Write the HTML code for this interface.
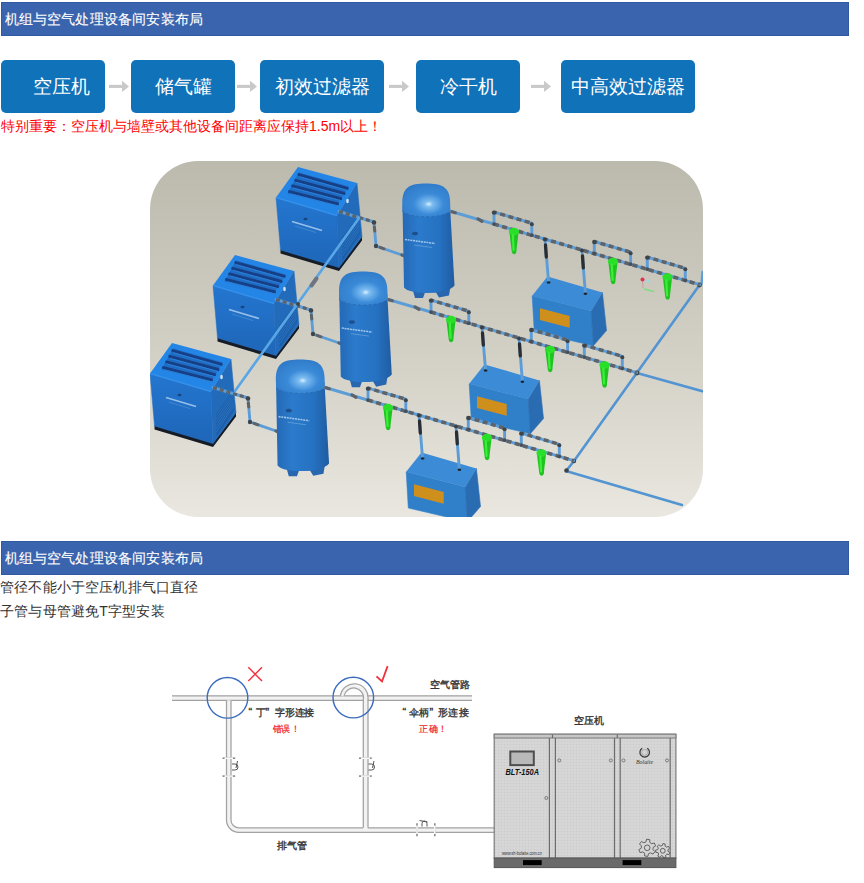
<!DOCTYPE html>
<html><head><meta charset="utf-8">
<style>
*{margin:0;padding:0;box-sizing:border-box}
html,body{width:864px;height:883px;overflow:hidden;background:#fff}
body{font-family:"Liberation Sans",sans-serif;position:relative;color:#333}
.hd{position:absolute;left:1px;width:848px;height:34px;background:#3a64ad;border:1px solid #3159a3;color:#fff;font-size:14px;line-height:32px;padding-left:2.5px;letter-spacing:0.2px;white-space:nowrap;-webkit-text-stroke:0.12px #fff}
.btn{position:absolute;top:60px;height:53px;background:#1072b9;border-radius:5px;color:#fff;font-size:19px;line-height:53px;text-align:center;white-space:nowrap}
.arr{position:absolute;top:79px}
.red{position:absolute;left:1px;top:116.5px;font-size:14px;line-height:18px;color:#f00;white-space:nowrap}
.txt{position:absolute;left:0;font-size:14px;line-height:18px;color:#333;letter-spacing:0.18px;white-space:nowrap}
svg{position:absolute;display:block}
</style></head><body>
<div class="hd" style="top:2px">机组与空气处理设备间安装布局</div>
<div class="btn" style="left:1px;width:104px;padding-left:16px">空压机</div>
<div class="btn" style="left:131px;width:104px">储气罐</div>
<div class="btn" style="left:260px;width:124px">初效过滤器</div>
<div class="btn" style="left:416px;width:104px">冷干机</div>
<div class="btn" style="left:561px;width:134px">中高效过滤器</div>
<svg class="arr" style="left:107px" width="24" height="15" viewBox="0 0 24 15"><path d="M2 7.4H16" stroke="#c9c9c9" stroke-width="3.1"/><path d="M15 1.7L22 7.4L15 13.1Z" fill="#c9c9c9"/></svg>
<svg class="arr" style="left:235px" width="24" height="15" viewBox="0 0 24 15"><path d="M2 7.4H16" stroke="#c9c9c9" stroke-width="3.1"/><path d="M15 1.7L22 7.4L15 13.1Z" fill="#c9c9c9"/></svg>
<svg class="arr" style="left:387px" width="24" height="15" viewBox="0 0 24 15"><path d="M2 7.4H16" stroke="#c9c9c9" stroke-width="3.1"/><path d="M15 1.7L22 7.4L15 13.1Z" fill="#c9c9c9"/></svg>
<svg class="arr" style="left:529px" width="24" height="15" viewBox="0 0 24 15"><path d="M2 7.4H16" stroke="#c9c9c9" stroke-width="3.1"/><path d="M15 1.7L22 7.4L15 13.1Z" fill="#c9c9c9"/></svg>
<div class="red">特别重要：空压机与墙壁或其他设备间距离应保持1.5m以上！</div>
<!-- 3D image -->
<svg id="img3d" style="left:0;top:0" width="864" height="540" viewBox="0 0 864 540">
<defs>
<linearGradient id="bg" x1="0" y1="0" x2="0" y2="1"><stop offset="0" stop-color="#bcb9ad"/><stop offset="0.55" stop-color="#d3d0c6"/><stop offset="1" stop-color="#e9e7df"/></linearGradient>
<linearGradient id="tk" x1="0" y1="0" x2="1" y2="0"><stop offset="0" stop-color="#2469b6"/><stop offset="0.3" stop-color="#2b7acb"/><stop offset="0.7" stop-color="#2672c2"/><stop offset="1" stop-color="#1f5ca2"/></linearGradient>
<radialGradient id="dome" cx="0.55" cy="0.62" r="0.7"><stop offset="0" stop-color="#d8f0ff"/><stop offset="0.12" stop-color="#7dbcf0"/><stop offset="0.45" stop-color="#3a8ad8"/><stop offset="1" stop-color="#2d78c6"/></radialGradient>
<linearGradient id="cf" x1="0" y1="0" x2="0" y2="1"><stop offset="0" stop-color="#2476d0"/><stop offset="1" stop-color="#1e66b8"/></linearGradient>
<clipPath id="clip"><rect x="150" y="161" width="553" height="356" rx="48" ry="48"/></clipPath>
</defs>
<rect x="150" y="161" width="553" height="356" rx="48" ry="48" fill="url(#bg)"/>
<g clip-path="url(#clip)">
<polyline points="702.5,272.0 701.5,284.0" fill="none" stroke="#5c9dd8" stroke-width="2.4" stroke-linejoin="round" stroke-linecap="round"/>
<polyline points="699.7,284.7 574.0,461.0 566.0,471.0 682.0,505.0" fill="none" stroke="#5394d2" stroke-width="2.6" stroke-linejoin="round" stroke-linecap="round"/>
<polyline points="637.0,373.0 705.0,392.0" fill="none" stroke="#5394d2" stroke-width="2.6" stroke-linejoin="round" stroke-linecap="round"/>
<circle cx="566.5" cy="470.5" r="2.3" fill="#3f4449"/>
<circle cx="637.0" cy="373.0" r="2.4" fill="#3f4449"/>
<circle cx="574.0" cy="461.0" r="2.2" fill="#3f4449"/>
<circle cx="699.5" cy="285.0" r="2.4" fill="#3f4449"/>
<polygon points="280.5,249.5 339.0,267.0 362.0,236.5 362.0,240.5 339.0,271.0 280.5,253.5" fill="#161c26"/>
<polygon points="276.0,197.5 337.0,215.5 339.0,267.5 280.5,250.0" fill="url(#cf)" stroke="#2270c6" stroke-width="0.5"/>
<polygon points="337.0,215.5 357.0,183.0 362.0,236.5 339.0,267.5" fill="#226bbb" stroke="#226bbb" stroke-width="0.5"/>
<polygon points="342.0,237.5 359.0,215.5 360.5,233.5 342.5,260.5" fill="#1d5fa8"/>
<line x1="342.2" y1="239.5" x2="359.6" y2="217.0" stroke="#2a74c4" stroke-width="0.9"/>
<line x1="342.2" y1="242.8" x2="359.6" y2="219.7" stroke="#2a74c4" stroke-width="0.9"/>
<line x1="342.2" y1="246.2" x2="359.6" y2="222.3" stroke="#2a74c4" stroke-width="0.9"/>
<line x1="342.2" y1="249.5" x2="359.6" y2="225.0" stroke="#2a74c4" stroke-width="0.9"/>
<line x1="342.2" y1="252.8" x2="359.6" y2="227.7" stroke="#2a74c4" stroke-width="0.9"/>
<line x1="342.2" y1="256.2" x2="359.6" y2="230.3" stroke="#2a74c4" stroke-width="0.9"/>
<polygon points="276.0,197.5 298.0,167.0 357.0,183.0 337.0,215.5" fill="#2385e6"/>
<polyline points="276.0,197.5 337.0,215.5" fill="none" stroke="#3590ea" stroke-width="1.4"/>
<polygon points="299.0,172.5 349.0,186.5 337.0,205.5 287.5,193.5" fill="#1f6cc4"/>
<line x1="298.9" y1="174.6" x2="347.3" y2="188.4" stroke="#163f86" stroke-width="2.9" stroke-linecap="round"/>
<line x1="299.4" y1="176.7" x2="347.8" y2="190.5" stroke="#2d7fd6" stroke-width="1"/>
<line x1="295.7" y1="180.3" x2="344.1" y2="193.5" stroke="#163f86" stroke-width="2.9" stroke-linecap="round"/>
<line x1="296.2" y1="182.4" x2="344.6" y2="195.6" stroke="#2d7fd6" stroke-width="1"/>
<line x1="292.6" y1="185.9" x2="340.8" y2="198.7" stroke="#163f86" stroke-width="2.9" stroke-linecap="round"/>
<line x1="293.1" y1="188.0" x2="341.3" y2="200.8" stroke="#2d7fd6" stroke-width="1"/>
<line x1="289.5" y1="191.6" x2="337.6" y2="203.8" stroke="#163f86" stroke-width="2.9" stroke-linecap="round"/>
<line x1="290.0" y1="193.7" x2="338.1" y2="205.9" stroke="#2d7fd6" stroke-width="1"/>
<line x1="292.0" y1="221.5" x2="322.0" y2="230.5" stroke="#a9cdf0" stroke-width="1.7" opacity="0.85"/>
<line x1="295.0" y1="226.0" x2="316.0" y2="232.5" stroke="#5b9ad6" stroke-width="0.8" opacity="0.7"/>
<ellipse cx="305.5" cy="219.0" rx="2" ry="1.3" fill="#17457f"/>
<ellipse cx="347.5" cy="201.0" rx="1.3" ry="2.2" fill="#cfe2f6"/>
<polyline points="339.0,211.5 374.0,222.0 376.0,246.0 405.0,256.0" fill="none" stroke="#5c9dd8" stroke-width="2.9" stroke-linejoin="round" stroke-linecap="round"/>
<polyline points="339.0,211.5 374.0,222.0" fill="none" stroke="#5d6369" stroke-width="3.2" stroke-dasharray="4 3" stroke-dashoffset="0"/>
<circle cx="374.0" cy="222.5" r="2.3" fill="#3f4449"/>
<line x1="374.3" y1="227.0" x2="374.8" y2="231.0" stroke="#5d6369" stroke-width="3" stroke-linecap="round"/>
<circle cx="376.0" cy="246.0" r="2.2" fill="#3f4449"/>
<line x1="380.0" y1="247.4" x2="384.0" y2="248.8" stroke="#5d6369" stroke-width="3" stroke-linecap="round"/>
<line x1="402.0" y1="255.0" x2="405.0" y2="256.0" stroke="#5d6369" stroke-width="3.2" stroke-linecap="round"/>
<g transform="translate(426,183.5) scale(1.0)">
<polygon points="-15,100 -11,114.5 -3,114.5 -1,109 10,109 13,114 23,112 25,100" fill="#2866b0"/>
<path d="M-23.5,22 L-22,104 C-16,112 22,111 28.5,102 L24,22 Z" fill="url(#tk)"/>
<path d="M-23.5,28 L-23.6,22 C-24.5,3 -16,0 0,0 C16,0 25,3 24.2,22 L24.3,28 C14,35 -14,35 -23.5,28 Z" fill="url(#dome)"/>
<path d="M-23.5,28 C-14,35 14,35 24.3,28" fill="none" stroke="#2a66ac" stroke-width="0.9" stroke-dasharray="2 3"/>
<line x1="-21" y1="56" x2="9" y2="60" stroke="#b5d5f2" stroke-width="1.5" stroke-dasharray="2 0.7" opacity="0.85"/>
<line x1="-12" y1="61.5" x2="6" y2="64" stroke="#7fb4e4" stroke-width="0.8" opacity="0.7"/>
<ellipse cx="-11" cy="50" rx="3" ry="1.8" fill="#1d4f8f"/>
</g>
<polygon points="532.2,295.8 591.2,311.1 593.3,345.8 534.3,332.0" fill="#3080c9" stroke="#3080c9" stroke-width="0.6"/>
<polygon points="591.2,311.1 602.4,292.4 606.5,330.5 593.3,345.8" fill="#2a6cb2" stroke="#2a6cb2" stroke-width="0.6"/>
<polygon points="532.2,295.8 547.5,276.4 602.4,292.4 591.2,311.1" fill="#3b8bd6"/>
<polygon points="540.0,308.3 569.7,316.0 569.7,327.8 540.0,320.0" fill="#cf8f1c"/>
<polyline points="451.3,211.5 699.7,284.7" fill="none" stroke="#5c9dd8" stroke-width="2.9" stroke-linejoin="round" stroke-linecap="round"/>
<polyline points="494.0,224.1 699.7,284.7" fill="none" stroke="#5d6369" stroke-width="3.6" stroke-dasharray="5 3.5" stroke-dashoffset="0"/>
<line x1="451.8" y1="211.7" x2="455.3" y2="212.7" stroke="#5d6369" stroke-width="3.2" stroke-linecap="round"/>
<line x1="478.0" y1="218.9" x2="482.0" y2="221.3" stroke="#5d6369" stroke-width="3.2" stroke-linecap="round"/>
<polyline points="494.0,224.1 494.0,212.1 531.8,223.2 531.8,235.2" fill="none" stroke="#5c9dd8" stroke-width="2.9" stroke-linejoin="round" stroke-linecap="round"/>
<polyline points="494.0,212.1 531.8,223.2" fill="none" stroke="#5d6369" stroke-width="3.5" stroke-dasharray="5 3.5" stroke-dashoffset="2"/>
<circle cx="494.0" cy="212.6" r="2.2" fill="#3f4449"/>
<circle cx="531.8" cy="224.2" r="2" fill="#3f4449"/>
<circle cx="494.0" cy="224.1" r="1.9" fill="#4a4f55"/>
<circle cx="531.8" cy="235.2" r="1.9" fill="#4a4f55"/>
<polyline points="594.3,253.5 594.3,241.5 630.6,252.2 630.6,264.2" fill="none" stroke="#5c9dd8" stroke-width="2.9" stroke-linejoin="round" stroke-linecap="round"/>
<polyline points="594.3,241.5 630.6,252.2" fill="none" stroke="#5d6369" stroke-width="3.5" stroke-dasharray="5 3.5" stroke-dashoffset="2"/>
<circle cx="594.3" cy="242.0" r="2.2" fill="#3f4449"/>
<circle cx="630.6" cy="253.2" r="2" fill="#3f4449"/>
<circle cx="594.3" cy="253.5" r="1.9" fill="#4a4f55"/>
<circle cx="630.6" cy="264.2" r="1.9" fill="#4a4f55"/>
<polyline points="647.3,269.1 647.3,257.1 685.3,268.3 685.3,280.3" fill="none" stroke="#5c9dd8" stroke-width="2.9" stroke-linejoin="round" stroke-linecap="round"/>
<polyline points="647.3,257.1 685.3,268.3" fill="none" stroke="#5d6369" stroke-width="3.5" stroke-dasharray="5 3.5" stroke-dashoffset="2"/>
<circle cx="647.3" cy="257.6" r="2.2" fill="#3f4449"/>
<circle cx="685.3" cy="269.3" r="2" fill="#3f4449"/>
<circle cx="647.3" cy="269.1" r="1.9" fill="#4a4f55"/>
<circle cx="685.3" cy="280.3" r="1.9" fill="#4a4f55"/>
<polyline points="545.0,239.0 548.6,282.5" fill="none" stroke="#5c9dd8" stroke-width="2.9" stroke-linejoin="round" stroke-linecap="round"/>
<circle cx="545.0" cy="239.5" r="2.0" fill="#3a3f44"/>
<line x1="545.5" y1="245.0" x2="546.3" y2="257.0" stroke="#2a2e33" stroke-width="3.3" stroke-linecap="round"/>
<ellipse cx="548.6" cy="282.5" rx="1.8" ry="1.3" fill="#1c2630"/>
<polyline points="582.0,249.9 585.4,293.7" fill="none" stroke="#5c9dd8" stroke-width="2.9" stroke-linejoin="round" stroke-linecap="round"/>
<circle cx="582.0" cy="250.4" r="2.0" fill="#3a3f44"/>
<line x1="582.5" y1="255.9" x2="583.3" y2="267.9" stroke="#2a2e33" stroke-width="3.3" stroke-linecap="round"/>
<ellipse cx="585.4" cy="293.7" rx="1.8" ry="1.3" fill="#1c2630"/>
<path d="M509.4,231.0 C509.8,237.0 511.2,246.0 511.8,251.8 C512.2,255.0 516.2,255.0 516.4,251.8 C516.8,246.0 518.2,237.0 518.6,231.0 Z" fill="#1fc41f"/>
<ellipse cx="514.0" cy="231.6" rx="5.1" ry="3.8" fill="#29e029"/>
<path d="M512.8,235.0 L513.6,250.0" stroke="#3aee3a" stroke-width="2.2" stroke-linecap="round"/>
<path d="M608.4,261.0 C608.8,267.0 610.2,276.0 610.8,281.8 C611.2,285.0 615.2,285.0 615.4,281.8 C615.8,276.0 617.2,267.0 617.6,261.0 Z" fill="#1fc41f"/>
<ellipse cx="613.0" cy="261.6" rx="5.1" ry="3.8" fill="#29e029"/>
<path d="M611.8,265.0 L612.6,280.0" stroke="#3aee3a" stroke-width="2.2" stroke-linecap="round"/>
<path d="M662.9,276.5 C663.3,282.5 664.7,291.5 665.3,297.3 C665.7,300.5 669.7,300.5 669.9,297.3 C670.3,291.5 671.7,282.5 672.1,276.5 Z" fill="#1fc41f"/>
<ellipse cx="667.5" cy="277.1" rx="5.1" ry="3.8" fill="#29e029"/>
<path d="M666.3,280.5 L667.1,295.5" stroke="#3aee3a" stroke-width="2.2" stroke-linecap="round"/>
<polygon points="217.5,337.5 276.0,355.0 299.0,324.5 299.0,328.5 276.0,359.0 217.5,341.5" fill="#161c26"/>
<polygon points="213.0,285.5 274.0,303.5 276.0,355.5 217.5,338.0" fill="url(#cf)" stroke="#2270c6" stroke-width="0.5"/>
<polygon points="274.0,303.5 294.0,271.0 299.0,324.5 276.0,355.5" fill="#226bbb" stroke="#226bbb" stroke-width="0.5"/>
<polygon points="279.0,325.5 296.0,303.5 297.5,321.5 279.5,348.5" fill="#1d5fa8"/>
<line x1="279.2" y1="327.5" x2="296.6" y2="305.0" stroke="#2a74c4" stroke-width="0.9"/>
<line x1="279.2" y1="330.8" x2="296.6" y2="307.7" stroke="#2a74c4" stroke-width="0.9"/>
<line x1="279.2" y1="334.2" x2="296.6" y2="310.3" stroke="#2a74c4" stroke-width="0.9"/>
<line x1="279.2" y1="337.5" x2="296.6" y2="313.0" stroke="#2a74c4" stroke-width="0.9"/>
<line x1="279.2" y1="340.8" x2="296.6" y2="315.7" stroke="#2a74c4" stroke-width="0.9"/>
<line x1="279.2" y1="344.2" x2="296.6" y2="318.3" stroke="#2a74c4" stroke-width="0.9"/>
<polygon points="213.0,285.5 235.0,255.0 294.0,271.0 274.0,303.5" fill="#2385e6"/>
<polyline points="213.0,285.5 274.0,303.5" fill="none" stroke="#3590ea" stroke-width="1.4"/>
<polygon points="236.0,260.5 286.0,274.5 274.0,293.5 224.5,281.5" fill="#1f6cc4"/>
<line x1="235.8" y1="262.6" x2="284.3" y2="276.4" stroke="#163f86" stroke-width="2.9" stroke-linecap="round"/>
<line x1="236.3" y1="264.7" x2="284.8" y2="278.5" stroke="#2d7fd6" stroke-width="1"/>
<line x1="232.7" y1="268.3" x2="281.1" y2="281.5" stroke="#163f86" stroke-width="2.9" stroke-linecap="round"/>
<line x1="233.2" y1="270.4" x2="281.6" y2="283.6" stroke="#2d7fd6" stroke-width="1"/>
<line x1="229.6" y1="273.9" x2="277.8" y2="286.7" stroke="#163f86" stroke-width="2.9" stroke-linecap="round"/>
<line x1="230.1" y1="276.0" x2="278.3" y2="288.8" stroke="#2d7fd6" stroke-width="1"/>
<line x1="226.5" y1="279.6" x2="274.6" y2="291.8" stroke="#163f86" stroke-width="2.9" stroke-linecap="round"/>
<line x1="227.0" y1="281.7" x2="275.1" y2="293.9" stroke="#2d7fd6" stroke-width="1"/>
<line x1="229.0" y1="309.5" x2="259.0" y2="318.5" stroke="#a9cdf0" stroke-width="1.7" opacity="0.85"/>
<line x1="232.0" y1="314.0" x2="253.0" y2="320.5" stroke="#5b9ad6" stroke-width="0.8" opacity="0.7"/>
<ellipse cx="242.5" cy="307.0" rx="2" ry="1.3" fill="#17457f"/>
<ellipse cx="284.5" cy="289.0" rx="1.3" ry="2.2" fill="#cfe2f6"/>
<polyline points="276.0,299.5 311.0,310.0 313.0,334.0 342.0,344.0" fill="none" stroke="#5c9dd8" stroke-width="2.9" stroke-linejoin="round" stroke-linecap="round"/>
<polyline points="276.0,299.5 311.0,310.0" fill="none" stroke="#5d6369" stroke-width="3.2" stroke-dasharray="4 3" stroke-dashoffset="0"/>
<circle cx="311.0" cy="310.5" r="2.3" fill="#3f4449"/>
<line x1="311.3" y1="315.0" x2="311.8" y2="319.0" stroke="#5d6369" stroke-width="3" stroke-linecap="round"/>
<circle cx="313.0" cy="334.0" r="2.2" fill="#3f4449"/>
<line x1="317.0" y1="335.4" x2="321.0" y2="336.8" stroke="#5d6369" stroke-width="3" stroke-linecap="round"/>
<line x1="339.0" y1="343.0" x2="342.0" y2="344.0" stroke="#5d6369" stroke-width="3.2" stroke-linecap="round"/>
<g transform="translate(363,271.5) scale(1.01)">
<polygon points="-15,100 -11,114.5 -3,114.5 -1,109 10,109 13,114 23,112 25,100" fill="#2866b0"/>
<path d="M-23.5,22 L-22,104 C-16,112 22,111 28.5,102 L24,22 Z" fill="url(#tk)"/>
<path d="M-23.5,28 L-23.6,22 C-24.5,3 -16,0 0,0 C16,0 25,3 24.2,22 L24.3,28 C14,35 -14,35 -23.5,28 Z" fill="url(#dome)"/>
<path d="M-23.5,28 C-14,35 14,35 24.3,28" fill="none" stroke="#2a66ac" stroke-width="0.9" stroke-dasharray="2 3"/>
<line x1="-21" y1="56" x2="9" y2="60" stroke="#b5d5f2" stroke-width="1.5" stroke-dasharray="2 0.7" opacity="0.85"/>
<line x1="-12" y1="61.5" x2="6" y2="64" stroke="#7fb4e4" stroke-width="0.8" opacity="0.7"/>
<ellipse cx="-11" cy="50" rx="3" ry="1.8" fill="#1d4f8f"/>
</g>
<polygon points="469.2,383.8 528.2,399.1 530.3,433.8 471.3,420.0" fill="#3080c9" stroke="#3080c9" stroke-width="0.6"/>
<polygon points="528.2,399.1 539.4,380.4 543.5,418.5 530.3,433.8" fill="#2a6cb2" stroke="#2a6cb2" stroke-width="0.6"/>
<polygon points="469.2,383.8 484.5,364.4 539.4,380.4 528.2,399.1" fill="#3b8bd6"/>
<polygon points="477.0,396.3 506.7,404.0 506.7,415.8 477.0,408.0" fill="#cf8f1c"/>
<polyline points="388.3,299.5 636.7,372.7" fill="none" stroke="#5c9dd8" stroke-width="2.9" stroke-linejoin="round" stroke-linecap="round"/>
<polyline points="431.0,312.1 636.7,372.7" fill="none" stroke="#5d6369" stroke-width="3.6" stroke-dasharray="5 3.5" stroke-dashoffset="0"/>
<line x1="388.8" y1="299.7" x2="392.3" y2="300.7" stroke="#5d6369" stroke-width="3.2" stroke-linecap="round"/>
<line x1="415.0" y1="306.9" x2="419.0" y2="309.3" stroke="#5d6369" stroke-width="3.2" stroke-linecap="round"/>
<polyline points="431.0,312.1 431.0,300.1 468.8,311.2 468.8,323.2" fill="none" stroke="#5c9dd8" stroke-width="2.9" stroke-linejoin="round" stroke-linecap="round"/>
<polyline points="431.0,300.1 468.8,311.2" fill="none" stroke="#5d6369" stroke-width="3.5" stroke-dasharray="5 3.5" stroke-dashoffset="2"/>
<circle cx="431.0" cy="300.6" r="2.2" fill="#3f4449"/>
<circle cx="468.8" cy="312.2" r="2" fill="#3f4449"/>
<circle cx="431.0" cy="312.1" r="1.9" fill="#4a4f55"/>
<circle cx="468.8" cy="323.2" r="1.9" fill="#4a4f55"/>
<polyline points="531.3,341.5 531.3,329.5 567.6,340.2 567.6,352.2" fill="none" stroke="#5c9dd8" stroke-width="2.9" stroke-linejoin="round" stroke-linecap="round"/>
<polyline points="531.3,329.5 567.6,340.2" fill="none" stroke="#5d6369" stroke-width="3.5" stroke-dasharray="5 3.5" stroke-dashoffset="2"/>
<circle cx="531.3" cy="330.0" r="2.2" fill="#3f4449"/>
<circle cx="567.6" cy="341.2" r="2" fill="#3f4449"/>
<circle cx="531.3" cy="341.5" r="1.9" fill="#4a4f55"/>
<circle cx="567.6" cy="352.2" r="1.9" fill="#4a4f55"/>
<polyline points="584.3,357.1 584.3,345.1 622.3,356.3 622.3,368.3" fill="none" stroke="#5c9dd8" stroke-width="2.9" stroke-linejoin="round" stroke-linecap="round"/>
<polyline points="584.3,345.1 622.3,356.3" fill="none" stroke="#5d6369" stroke-width="3.5" stroke-dasharray="5 3.5" stroke-dashoffset="2"/>
<circle cx="584.3" cy="345.6" r="2.2" fill="#3f4449"/>
<circle cx="622.3" cy="357.3" r="2" fill="#3f4449"/>
<circle cx="584.3" cy="357.1" r="1.9" fill="#4a4f55"/>
<circle cx="622.3" cy="368.3" r="1.9" fill="#4a4f55"/>
<polyline points="482.0,327.0 485.6,370.5" fill="none" stroke="#5c9dd8" stroke-width="2.9" stroke-linejoin="round" stroke-linecap="round"/>
<circle cx="482.0" cy="327.5" r="2.0" fill="#3a3f44"/>
<line x1="482.5" y1="333.0" x2="483.3" y2="345.0" stroke="#2a2e33" stroke-width="3.3" stroke-linecap="round"/>
<ellipse cx="485.6" cy="370.5" rx="1.8" ry="1.3" fill="#1c2630"/>
<polyline points="519.0,337.9 522.4,381.7" fill="none" stroke="#5c9dd8" stroke-width="2.9" stroke-linejoin="round" stroke-linecap="round"/>
<circle cx="519.0" cy="338.4" r="2.0" fill="#3a3f44"/>
<line x1="519.5" y1="343.9" x2="520.3" y2="355.9" stroke="#2a2e33" stroke-width="3.3" stroke-linecap="round"/>
<ellipse cx="522.4" cy="381.7" rx="1.8" ry="1.3" fill="#1c2630"/>
<path d="M446.4,319.0 C446.8,325.0 448.2,334.0 448.8,339.8 C449.2,343.0 453.2,343.0 453.4,339.8 C453.8,334.0 455.2,325.0 455.6,319.0 Z" fill="#1fc41f"/>
<ellipse cx="451.0" cy="319.6" rx="5.1" ry="3.8" fill="#29e029"/>
<path d="M449.8,323.0 L450.6,338.0" stroke="#3aee3a" stroke-width="2.2" stroke-linecap="round"/>
<path d="M545.4,349.0 C545.8,355.0 547.2,364.0 547.8,369.8 C548.2,373.0 552.2,373.0 552.4,369.8 C552.8,364.0 554.2,355.0 554.6,349.0 Z" fill="#1fc41f"/>
<ellipse cx="550.0" cy="349.6" rx="5.1" ry="3.8" fill="#29e029"/>
<path d="M548.8,353.0 L549.6,368.0" stroke="#3aee3a" stroke-width="2.2" stroke-linecap="round"/>
<path d="M599.9,364.5 C600.3,370.5 601.7,379.5 602.3,385.3 C602.7,388.5 606.7,388.5 606.9,385.3 C607.3,379.5 608.7,370.5 609.1,364.5 Z" fill="#1fc41f"/>
<ellipse cx="604.5" cy="365.1" rx="5.1" ry="3.8" fill="#29e029"/>
<path d="M603.3,368.5 L604.1,383.5" stroke="#3aee3a" stroke-width="2.2" stroke-linecap="round"/>
<polygon points="154.5,425.5 213.0,443.0 236.0,412.5 236.0,416.5 213.0,447.0 154.5,429.5" fill="#161c26"/>
<polygon points="150.0,373.5 211.0,391.5 213.0,443.5 154.5,426.0" fill="url(#cf)" stroke="#2270c6" stroke-width="0.5"/>
<polygon points="211.0,391.5 231.0,359.0 236.0,412.5 213.0,443.5" fill="#226bbb" stroke="#226bbb" stroke-width="0.5"/>
<polygon points="216.0,413.5 233.0,391.5 234.5,409.5 216.5,436.5" fill="#1d5fa8"/>
<line x1="216.2" y1="415.5" x2="233.6" y2="393.0" stroke="#2a74c4" stroke-width="0.9"/>
<line x1="216.2" y1="418.8" x2="233.6" y2="395.7" stroke="#2a74c4" stroke-width="0.9"/>
<line x1="216.2" y1="422.2" x2="233.6" y2="398.3" stroke="#2a74c4" stroke-width="0.9"/>
<line x1="216.2" y1="425.5" x2="233.6" y2="401.0" stroke="#2a74c4" stroke-width="0.9"/>
<line x1="216.2" y1="428.8" x2="233.6" y2="403.7" stroke="#2a74c4" stroke-width="0.9"/>
<line x1="216.2" y1="432.2" x2="233.6" y2="406.3" stroke="#2a74c4" stroke-width="0.9"/>
<polygon points="150.0,373.5 172.0,343.0 231.0,359.0 211.0,391.5" fill="#2385e6"/>
<polyline points="150.0,373.5 211.0,391.5" fill="none" stroke="#3590ea" stroke-width="1.4"/>
<polygon points="173.0,348.5 223.0,362.5 211.0,381.5 161.5,369.5" fill="#1f6cc4"/>
<line x1="172.8" y1="350.6" x2="221.3" y2="364.4" stroke="#163f86" stroke-width="2.9" stroke-linecap="round"/>
<line x1="173.3" y1="352.7" x2="221.8" y2="366.5" stroke="#2d7fd6" stroke-width="1"/>
<line x1="169.7" y1="356.3" x2="218.1" y2="369.5" stroke="#163f86" stroke-width="2.9" stroke-linecap="round"/>
<line x1="170.2" y1="358.4" x2="218.6" y2="371.6" stroke="#2d7fd6" stroke-width="1"/>
<line x1="166.6" y1="361.9" x2="214.8" y2="374.7" stroke="#163f86" stroke-width="2.9" stroke-linecap="round"/>
<line x1="167.1" y1="364.0" x2="215.3" y2="376.8" stroke="#2d7fd6" stroke-width="1"/>
<line x1="163.5" y1="367.6" x2="211.6" y2="379.8" stroke="#163f86" stroke-width="2.9" stroke-linecap="round"/>
<line x1="164.0" y1="369.7" x2="212.1" y2="381.9" stroke="#2d7fd6" stroke-width="1"/>
<line x1="166.0" y1="397.5" x2="196.0" y2="406.5" stroke="#a9cdf0" stroke-width="1.7" opacity="0.85"/>
<line x1="169.0" y1="402.0" x2="190.0" y2="408.5" stroke="#5b9ad6" stroke-width="0.8" opacity="0.7"/>
<ellipse cx="179.5" cy="395.0" rx="2" ry="1.3" fill="#17457f"/>
<ellipse cx="221.5" cy="377.0" rx="1.3" ry="2.2" fill="#cfe2f6"/>
<polyline points="213.0,387.5 248.0,398.0 250.0,422.0 279.0,432.0" fill="none" stroke="#5c9dd8" stroke-width="2.9" stroke-linejoin="round" stroke-linecap="round"/>
<polyline points="213.0,387.5 248.0,398.0" fill="none" stroke="#5d6369" stroke-width="3.2" stroke-dasharray="4 3" stroke-dashoffset="0"/>
<circle cx="248.0" cy="398.5" r="2.3" fill="#3f4449"/>
<line x1="248.3" y1="403.0" x2="248.8" y2="407.0" stroke="#5d6369" stroke-width="3" stroke-linecap="round"/>
<circle cx="250.0" cy="422.0" r="2.2" fill="#3f4449"/>
<line x1="254.0" y1="423.4" x2="258.0" y2="424.8" stroke="#5d6369" stroke-width="3" stroke-linecap="round"/>
<line x1="276.0" y1="431.0" x2="279.0" y2="432.0" stroke="#5d6369" stroke-width="3.2" stroke-linecap="round"/>
<g transform="translate(300,359.5) scale(1.02)">
<polygon points="-15,100 -11,114.5 -3,114.5 -1,109 10,109 13,114 23,112 25,100" fill="#2866b0"/>
<path d="M-23.5,22 L-22,104 C-16,112 22,111 28.5,102 L24,22 Z" fill="url(#tk)"/>
<path d="M-23.5,28 L-23.6,22 C-24.5,3 -16,0 0,0 C16,0 25,3 24.2,22 L24.3,28 C14,35 -14,35 -23.5,28 Z" fill="url(#dome)"/>
<path d="M-23.5,28 C-14,35 14,35 24.3,28" fill="none" stroke="#2a66ac" stroke-width="0.9" stroke-dasharray="2 3"/>
<line x1="-21" y1="56" x2="9" y2="60" stroke="#b5d5f2" stroke-width="1.5" stroke-dasharray="2 0.7" opacity="0.85"/>
<line x1="-12" y1="61.5" x2="6" y2="64" stroke="#7fb4e4" stroke-width="0.8" opacity="0.7"/>
<ellipse cx="-11" cy="50" rx="3" ry="1.8" fill="#1d4f8f"/>
</g>
<polygon points="406.2,471.8 465.2,487.1 467.3,521.8 408.3,508.0" fill="#3080c9" stroke="#3080c9" stroke-width="0.6"/>
<polygon points="465.2,487.1 476.4,468.4 480.5,506.5 467.3,521.8" fill="#2a6cb2" stroke="#2a6cb2" stroke-width="0.6"/>
<polygon points="406.2,471.8 421.5,452.4 476.4,468.4 465.2,487.1" fill="#3b8bd6"/>
<polygon points="414.0,484.3 443.7,492.0 443.7,503.8 414.0,496.0" fill="#cf8f1c"/>
<polyline points="325.3,387.5 573.7,460.7" fill="none" stroke="#5c9dd8" stroke-width="2.9" stroke-linejoin="round" stroke-linecap="round"/>
<polyline points="368.0,400.1 573.7,460.7" fill="none" stroke="#5d6369" stroke-width="3.6" stroke-dasharray="5 3.5" stroke-dashoffset="0"/>
<line x1="325.8" y1="387.7" x2="329.3" y2="388.7" stroke="#5d6369" stroke-width="3.2" stroke-linecap="round"/>
<line x1="352.0" y1="394.9" x2="356.0" y2="397.3" stroke="#5d6369" stroke-width="3.2" stroke-linecap="round"/>
<polyline points="368.0,400.1 368.0,388.1 405.8,399.2 405.8,411.2" fill="none" stroke="#5c9dd8" stroke-width="2.9" stroke-linejoin="round" stroke-linecap="round"/>
<polyline points="368.0,388.1 405.8,399.2" fill="none" stroke="#5d6369" stroke-width="3.5" stroke-dasharray="5 3.5" stroke-dashoffset="2"/>
<circle cx="368.0" cy="388.6" r="2.2" fill="#3f4449"/>
<circle cx="405.8" cy="400.2" r="2" fill="#3f4449"/>
<circle cx="368.0" cy="400.1" r="1.9" fill="#4a4f55"/>
<circle cx="405.8" cy="411.2" r="1.9" fill="#4a4f55"/>
<polyline points="468.3,429.5 468.3,417.5 504.6,428.2 504.6,440.2" fill="none" stroke="#5c9dd8" stroke-width="2.9" stroke-linejoin="round" stroke-linecap="round"/>
<polyline points="468.3,417.5 504.6,428.2" fill="none" stroke="#5d6369" stroke-width="3.5" stroke-dasharray="5 3.5" stroke-dashoffset="2"/>
<circle cx="468.3" cy="418.0" r="2.2" fill="#3f4449"/>
<circle cx="504.6" cy="429.2" r="2" fill="#3f4449"/>
<circle cx="468.3" cy="429.5" r="1.9" fill="#4a4f55"/>
<circle cx="504.6" cy="440.2" r="1.9" fill="#4a4f55"/>
<polyline points="521.3,445.1 521.3,433.1 559.3,444.3 559.3,456.3" fill="none" stroke="#5c9dd8" stroke-width="2.9" stroke-linejoin="round" stroke-linecap="round"/>
<polyline points="521.3,433.1 559.3,444.3" fill="none" stroke="#5d6369" stroke-width="3.5" stroke-dasharray="5 3.5" stroke-dashoffset="2"/>
<circle cx="521.3" cy="433.6" r="2.2" fill="#3f4449"/>
<circle cx="559.3" cy="445.3" r="2" fill="#3f4449"/>
<circle cx="521.3" cy="445.1" r="1.9" fill="#4a4f55"/>
<circle cx="559.3" cy="456.3" r="1.9" fill="#4a4f55"/>
<polyline points="419.0,415.0 422.6,458.5" fill="none" stroke="#5c9dd8" stroke-width="2.9" stroke-linejoin="round" stroke-linecap="round"/>
<circle cx="419.0" cy="415.5" r="2.0" fill="#3a3f44"/>
<line x1="419.5" y1="421.0" x2="420.3" y2="433.0" stroke="#2a2e33" stroke-width="3.3" stroke-linecap="round"/>
<ellipse cx="422.6" cy="458.5" rx="1.8" ry="1.3" fill="#1c2630"/>
<polyline points="456.0,425.9 459.4,469.7" fill="none" stroke="#5c9dd8" stroke-width="2.9" stroke-linejoin="round" stroke-linecap="round"/>
<circle cx="456.0" cy="426.4" r="2.0" fill="#3a3f44"/>
<line x1="456.5" y1="431.9" x2="457.3" y2="443.9" stroke="#2a2e33" stroke-width="3.3" stroke-linecap="round"/>
<ellipse cx="459.4" cy="469.7" rx="1.8" ry="1.3" fill="#1c2630"/>
<path d="M383.4,407.0 C383.8,413.0 385.2,422.0 385.8,427.8 C386.2,431.0 390.2,431.0 390.4,427.8 C390.8,422.0 392.2,413.0 392.6,407.0 Z" fill="#1fc41f"/>
<ellipse cx="388.0" cy="407.6" rx="5.1" ry="3.8" fill="#29e029"/>
<path d="M386.8,411.0 L387.6,426.0" stroke="#3aee3a" stroke-width="2.2" stroke-linecap="round"/>
<path d="M482.4,437.0 C482.8,443.0 484.2,452.0 484.8,457.8 C485.2,461.0 489.2,461.0 489.4,457.8 C489.8,452.0 491.2,443.0 491.6,437.0 Z" fill="#1fc41f"/>
<ellipse cx="487.0" cy="437.6" rx="5.1" ry="3.8" fill="#29e029"/>
<path d="M485.8,441.0 L486.6,456.0" stroke="#3aee3a" stroke-width="2.2" stroke-linecap="round"/>
<path d="M536.9,452.5 C537.3,458.5 538.7,467.5 539.3,473.3 C539.7,476.5 543.7,476.5 543.9,473.3 C544.3,467.5 545.7,458.5 546.1,452.5 Z" fill="#1fc41f"/>
<ellipse cx="541.5" cy="453.1" rx="5.1" ry="3.8" fill="#29e029"/>
<path d="M540.3,456.5 L541.1,471.5" stroke="#3aee3a" stroke-width="2.2" stroke-linecap="round"/>
<polyline points="359.0,218.0 235.0,391.0" fill="none" stroke="#58a6e6" stroke-width="2.6" stroke-linejoin="round" stroke-linecap="round"/>
<line x1="316.5" y1="278.5" x2="311.5" y2="285.5" stroke="#6d7680" stroke-width="4" stroke-linecap="round"/>
<circle cx="298.0" cy="304.0" r="2" fill="#3f4449"/>
<line x1="642.5" y1="281" x2="643" y2="288" stroke="#c9a0a0" stroke-width="1"/>
<line x1="644" y1="289" x2="654" y2="291.5" stroke="#7fdc7f" stroke-width="1.6"/>
<circle cx="642.5" cy="279.5" r="2" fill="#e0304a"/>
<circle cx="648" cy="281" r="1.5" fill="#8ee0ea"/>
</g>
</svg>
<div class="hd" style="top:541px">机组与空气处理设备间安装布局</div>
<div class="txt" style="top:578px">管径不能小于空压机排气口直径</div>
<div class="txt" style="top:602px">子管与母管避免T字型安装</div>
<svg id="diag" style="left:0;top:0" width="864" height="883" viewBox="0 0 864 883">
<defs>
<pattern id="dots" width="3" height="3" patternUnits="userSpaceOnUse"><rect width="3" height="3" fill="#d4d4d5"/><rect x="0" y="0" width="1" height="1" fill="#cbcbcc"/><rect x="1.5" y="1.5" width="1" height="1" fill="#dcdcdd"/></pattern>
</defs>
<g fill="none" stroke-linecap="butt">
<!-- air pipe top -->
<rect x="172" y="695.3" width="300" height="5.6" fill="#f2f2f2" stroke="none"/>
<line x1="172" y1="695.9" x2="472" y2="695.9" stroke="#a2a2a2" stroke-width="1.25"/>
<line x1="172" y1="700.3" x2="472" y2="700.3" stroke="#a2a2a2" stroke-width="1.25"/>
<!-- vertical pipe 1 with curved bottom -->
<path d="M228.8,700.3 V820 A10,10 0 0 0 238.8,830 H494" stroke="#f2f2f2" stroke-width="4.6"/>
<path d="M226.5,700.3 V820 A12.3,12.3 0 0 0 238.8,832.3 H494" stroke="#a2a2a2" stroke-width="1.25"/>
<path d="M231,700.3 V820 A7.8,7.8 0 0 0 238.8,827.8 H363.2" stroke="#a2a2a2" stroke-width="1.25"/>
<line x1="367.8" y1="827.8" x2="494" y2="827.8" stroke="#a2a2a2" stroke-width="1.25"/>
<!-- vertical pipe 2 + umbrella -->
<path d="M342.2,696 A11.9,11.9 0 0 1 365.6,699.5 V827.8" stroke="#f2f2f2" stroke-width="4.2"/>
<path d="M340.4,696 A13.8,13.8 0 0 1 368,699.5 V827.8" stroke="#a2a2a2" stroke-width="1.25"/>
<path d="M344,696 A9.7,9.7 0 0 1 363.3,699.5 V827.8" stroke="#a2a2a2" stroke-width="1.25"/>
</g>
<!-- valves vertical -->
<g stroke="#8a8a8a" stroke-width="1.6">
<line x1="222.5" y1="758.2" x2="235.2" y2="758.2"/><line x1="222.5" y1="776.1" x2="235.2" y2="776.1"/>
<line x1="359" y1="758.2" x2="371.8" y2="758.2"/><line x1="359" y1="776.1" x2="371.8" y2="776.1"/>
<line x1="417" y1="823.3" x2="417" y2="836.3"/><line x1="434.8" y1="823.3" x2="434.8" y2="836.3"/>
</g>
<g stroke="#fff" stroke-width="1.5">
<line x1="224.5" y1="758.2" x2="233" y2="758.2"/><line x1="224.5" y1="776.1" x2="233" y2="776.1"/>
<line x1="361" y1="758.2" x2="370" y2="758.2"/><line x1="361" y1="776.1" x2="370" y2="776.1"/>
<line x1="417" y1="825.5" x2="417" y2="834"/><line x1="434.8" y1="825.5" x2="434.8" y2="834"/>
</g>
<g fill="none" stroke="#555" stroke-width="1">
<path d="M232,764 h3 a3,3 0 0 1 0,6 h-3 M237.5,761 l-1.5,7"/>
<path d="M368.5,764 h3 a3,3 0 0 1 0,6 h-3 M374,761 l-1.5,7"/>
<path d="M422,826.5 v-3 a2.5,2.5 0 0 1 5,0 v3 M419.5,820.5 l8,1.5"/>
</g>
<!-- circles -->
<circle cx="227.5" cy="697.8" r="20.3" fill="none" stroke="#3b6cc0" stroke-width="1.4"/>
<circle cx="353.3" cy="697.6" r="20.3" fill="none" stroke="#3b6cc0" stroke-width="1.4"/>
<!-- red X and check -->
<path d="M248.3,667.2 L262,681.1 M262,667.2 L248.3,681.1" stroke="#f0303a" stroke-width="1.4"/>
<path d="M376.5,676.3 L382,681.5 L387.6,666.1" fill="none" stroke="#f0303a" stroke-width="1.8"/>
<!-- compressor -->
<rect x="494.2" y="734.2" width="181.7" height="124" fill="url(#dots)" stroke="#7c7c7c" stroke-width="1.2"/>
<rect x="494.2" y="734.2" width="181.7" height="3.8" fill="#c6c6c6" stroke="#7c7c7c" stroke-width="1"/>
<g stroke="#6c6c6c" stroke-width="1.2">
<line x1="549.4" y1="738" x2="549.4" y2="858"/>
<line x1="555.4" y1="738" x2="555.4" y2="858"/>
<line x1="614.5" y1="738" x2="614.5" y2="858"/>
<line x1="620.2" y1="738" x2="620.2" y2="858"/>
<line x1="670.2" y1="738" x2="670.2" y2="858"/>
<line x1="552.5" y1="734.5" x2="552.5" y2="738"/>
<line x1="617.3" y1="734.5" x2="617.3" y2="738"/>
</g>
<rect x="510.3" y="751.5" width="23.5" height="13.6" fill="#b9b9b9" stroke="#4e4e4e" stroke-width="2"/>
<text x="505.5" y="775.2" font-family="Liberation Sans" font-weight="bold" font-style="italic" font-size="9.5" fill="#111" textLength="33.5" lengthAdjust="spacingAndGlyphs">BLT-150A</text>
<g fill="none" stroke="#707070" stroke-width="0.9">
<circle cx="559.3" cy="760.4" r="1.5"/><circle cx="610.8" cy="760.4" r="1.5"/><circle cx="623.5" cy="760.4" r="1.5"/><circle cx="667" cy="760.4" r="1.5"/><circle cx="546.3" cy="798" r="1.5"/>
</g>
<g fill="none" stroke="#3a3a3a" stroke-width="1.2">
<path d="M642.2,748.2 A4.8,4.8 0 1 0 647.2,748.2"/>
</g>
<circle cx="644.7" cy="752.4" r="3" fill="none" stroke="#9a9a9a" stroke-width="0.7"/>
<text x="636" y="763.8" font-family="Liberation Serif" font-style="italic" font-size="5.5" fill="#333" textLength="17" lengthAdjust="spacingAndGlyphs">Bolaite</text>
<text x="502" y="854.8" font-family="Liberation Sans" font-size="4.6" fill="#333" textLength="40" lengthAdjust="spacingAndGlyphs">www.sh-bolaite.com.cn</text>
<g fill="#d4d4d5" stroke="#555" stroke-width="0.9">
<path d="M668.0,851.3 L669.8,852.5 L668.9,854.6 L666.8,854.1 L665.6,855.2 L665.9,857.3 L663.7,857.9 L662.7,856.0 L661.1,855.7 L659.6,857.3 L657.8,856.0 L658.7,854.0 L657.9,852.6 L655.8,852.3 L655.6,850.1 L657.7,849.6 L658.4,848.1 L657.2,846.3 L658.9,844.8 L660.6,846.1 L662.2,845.6 L662.9,843.6 L665.1,844.0 L665.1,846.1 L666.4,847.1 L668.5,846.4 L669.6,848.3 L667.9,849.7 Z"/>
<path d="M652.9,849.6 L654.9,851.6 L653.0,854.1 L650.5,852.8 L648.5,853.7 L647.8,856.4 L644.7,856.0 L644.6,853.2 L642.8,851.9 L640.1,852.6 L638.8,849.7 L641.2,848.2 L641.5,846.0 L639.5,844.0 L641.4,841.5 L643.9,842.8 L645.9,841.9 L646.6,839.2 L649.7,839.6 L649.8,842.4 L651.6,843.7 L654.3,843.0 L655.6,845.9 L653.2,847.4 Z"/>
<circle cx="647.2" cy="847.8" r="2.8"/>
<circle cx="662.8" cy="850.8" r="2.4"/>
</g>
<rect x="494.2" y="858" width="181.7" height="9.6" fill="#6a6a6a" stroke="#555" stroke-width="1"/>
<rect x="523" y="860.1" width="18.7" height="5" fill="#000"/>
<rect x="622.6" y="860.1" width="18.7" height="5" fill="#000"/>
<!-- labels -->
<g font-family="Liberation Sans" font-weight="normal" fill="#333" stroke="#333" stroke-width="0.35" font-size="9.6">
<text x="429.7 439.7 449.8 459.5" y="688.2">空气管路</text>
<text y="716.2"><tspan x="248.6" font-size="11">“</tspan><tspan x="256.2">丁</tspan><tspan x="265.6" font-size="11">”</tspan><tspan x="274.8 285 295.1 304.4">字形连接</tspan></text>
<text y="716.2"><tspan x="402.6" font-size="11">“</tspan><tspan x="409.4 419.1">伞柄</tspan><tspan x="429.4" font-size="11">”</tspan><tspan x="438.1 448.3 458.5">形连接</tspan></text>
<text x="277.2 287 296.8" y="848.8">排气管</text>
<text x="574.4 584.3 594.1" y="723.6">空压机</text>
</g>
<g font-family="Liberation Sans" font-weight="normal" fill="#f21e1e" stroke="#f21e1e" stroke-width="0.2" font-size="9.2">
<text x="272.5 281.3 291" y="732.2">错误！</text>
<text x="419.1 428.9 438" y="732.2">正确！</text>
</g>
</svg>
</body></html>
